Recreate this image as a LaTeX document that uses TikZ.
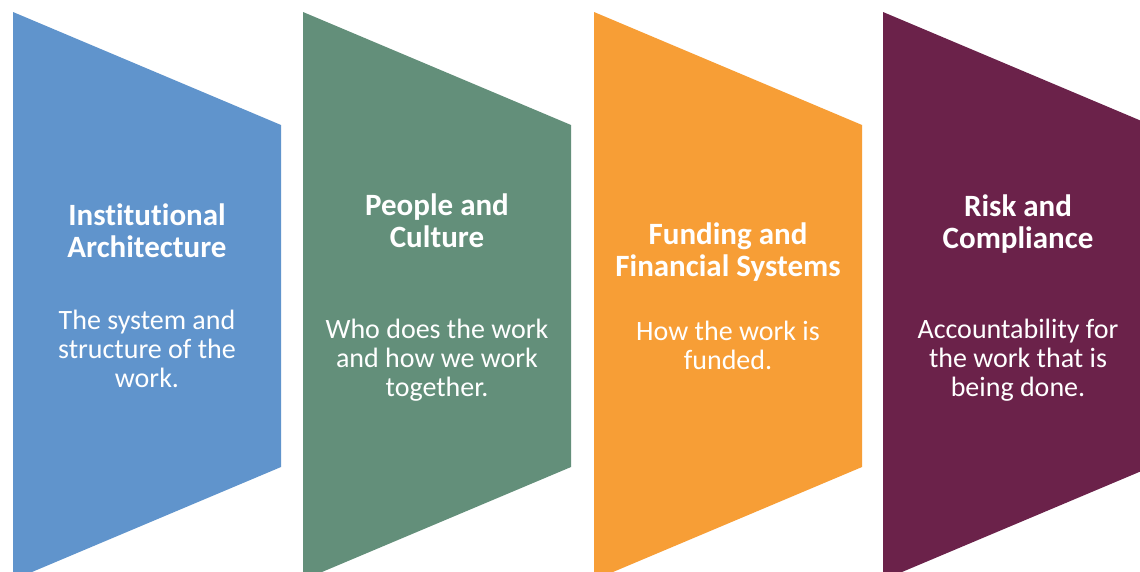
\documentclass[tikz,border=0pt]{standalone}
\usepackage{fontspec}
\setmainfont[Ligatures=NoCommon]{Carlito}
\definecolor{cblue}{RGB}{96,148,204}
\definecolor{cgreen}{RGB}{99,143,122}
\definecolor{corange}{RGB}{247,158,54}
\definecolor{cpurple}{RGB}{107,34,74}
\tikzset{
  title/.style={text=white, align=center, inner sep=0pt, font=\fontsize{31}{32}\selectfont\bfseries},
  body/.style={text=white, align=center, inner sep=0pt, font=\fontsize{28}{29}\selectfont},
}
\newcommand{\chev}[2]{%
  \fill[#2] (#1,12) -- (#1+268,125) -- (#1+268,467) -- (#1,580) -- cycle;}
\begin{document}
\begin{tikzpicture}[x=1pt,y=-1pt]
\useasboundingbox (0,0) rectangle (1140,571);
\clip (0,0) rectangle (1140,571);
\fill[white] (0,0) rectangle (1140,571);
\chev{13}{cblue}
\chev{303}{cgreen}
\chev{594}{corange}
\chev{883}{cpurple}
\node[title] (t1) at (147,230.5) {Institutional\\Architecture};
\node[body] (b1) at (147,349) {The system and\\structure of the\\work.};
\node[title] (t2) at (437,221) {People and\\Culture};
\node[body] (b2) at (437,360) {Who does the work\\and how we work\\together.};
\node[title] (t3) at (728,252) {Funding and\\Financial Systems};
\node[body] (b3) at (728,345) {How the work is\\funded.};
\node[title] (t4) at (1018,224) {Risk and\\Compliance};
\node[body] (b4) at (1018,360) {Accountability for\\the work that is\\being done.};
\end{tikzpicture}
\end{document}
